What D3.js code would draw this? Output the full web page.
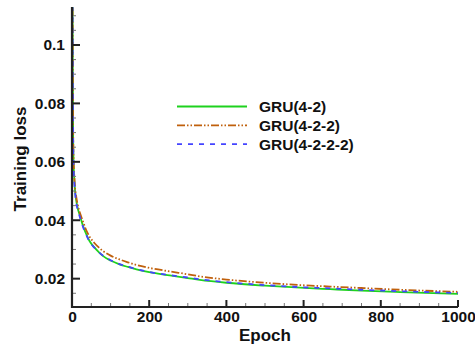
<!DOCTYPE html>
<html>
<head>
<meta charset="utf-8">
<script src="https://cdn.jsdelivr.net/npm/d3@7"></script>
<style>
  body { margin: 0; background: #fff; }
  text { font-family: "Liberation Sans", Arial, sans-serif; font-weight: bold; }
</style>
</head>
<body>
<div id="chart"></div>
<script>
// epochs sampled along the curves
var epochs = [0, 1, 2, 3, 4, 6, 8, 11, 15, 19, 24, 30, 37, 45, 58, 70, 80, 100, 123, 145, 167, 200, 253, 300, 331, 400, 500, 591, 669, 750, 850, 1000];

var gru42 = [0.2, 0.13, 0.09, 0.068, 0.06, 0.054, 0.05, 0.0467, 0.044, 0.0422, 0.04, 0.0375, 0.0352, 0.033, 0.0307, 0.029, 0.0278, 0.0262, 0.0249, 0.024, 0.0232, 0.0222, 0.0211, 0.0202, 0.0196, 0.0186, 0.0176, 0.0169, 0.0164, 0.0159, 0.0154, 0.0148];
var gru422 = [0.2, 0.13, 0.09, 0.069, 0.061, 0.055, 0.051, 0.048, 0.0452, 0.0432, 0.0412, 0.039, 0.0365, 0.0345, 0.0322, 0.0306, 0.0295, 0.0279, 0.0266, 0.0256, 0.0247, 0.0237, 0.0225, 0.0215, 0.0208, 0.0197, 0.0186, 0.0178, 0.0173, 0.0168, 0.0162, 0.0155];
var gru4222 = [0.2, 0.13, 0.09, 0.067, 0.059, 0.053, 0.0495, 0.046, 0.0435, 0.0417, 0.0395, 0.0372, 0.035, 0.0328, 0.0306, 0.029, 0.0279, 0.0263, 0.025, 0.0241, 0.0233, 0.0223, 0.0212, 0.0204, 0.0198, 0.0188, 0.0178, 0.0171, 0.0167, 0.0162, 0.0157, 0.0151];

var seriesNames = ["GRU(4-2)", "GRU(4-2-2)", "GRU(4-2-2-2)"];
var xTicks = [0, 200, 400, 600, 800, 1000];
var yTicks = [0.02, 0.04, 0.06, 0.08, 0.1];

var series = [
  { name: seriesNames[0], values: gru42, color: "#1ed21e", dash: null },
  { name: seriesNames[1], values: gru422, color: "#c0600c", dash: "8,2,1.5,2,1.5,2" },
  { name: seriesNames[2], values: gru4222, color: "#4444ff", dash: "5,6" }
];

var W = 475, H = 345;
var margin = {top: 7, right: 17, bottom: 38, left: 72};
var width = W - margin.left - margin.right;
var height = H - margin.top - margin.bottom;

var svg = d3.select("#chart").append("svg")
  .attr("width", W)
  .attr("height", H);

var g = svg.append("g")
  .attr("transform", "translate(" + margin.left + "," + margin.top + ")");

var x = d3.scaleLinear().domain([0, 1000]).range([0, width]);
var y = d3.scaleLinear().domain([0.0103, 0.113]).range([height, 0]);

g.append("clipPath").attr("id", "clip")
  .append("rect").attr("width", width + 2).attr("height", height);

var line = d3.line()
  .x(function (d, i) { return x(epochs[i]); })
  .y(function (d) { return y(d); })
  .curve(d3.curveMonotoneX);

var plot = g.append("g").attr("clip-path", "url(#clip)");
series.forEach(function (s) {
  plot.append("path")
    .datum(s.values)
    .attr("fill", "none")
    .attr("stroke", s.color)
    .attr("stroke-width", 1.8)
    .attr("stroke-dasharray", s.dash)
    .attr("d", line);
});

// minor ticks
var xMinor = d3.range(50, 1000, 50).filter(function (v) { return v % 200 !== 0; });
g.selectAll(".xminor").data(xMinor).enter().append("line")
  .attr("x1", d => x(d)).attr("x2", d => x(d))
  .attr("y1", height).attr("y2", height - 4)
  .attr("stroke", "#777").attr("stroke-width", 1);
var yMinor = [0.015, 0.025, 0.03, 0.035, 0.045, 0.05, 0.055, 0.065, 0.07, 0.075, 0.085, 0.09, 0.095, 0.105, 0.11];
g.selectAll(".yminor").data(yMinor).enter().append("line")
  .attr("x1", 0).attr("x2", 4)
  .attr("y1", d => y(d)).attr("y2", d => y(d))
  .attr("stroke", "#777").attr("stroke-width", 1);

// major ticks (inward)
g.selectAll(".xmajor").data(xTicks).enter().append("line")
  .attr("x1", d => x(d)).attr("x2", d => x(d))
  .attr("y1", height).attr("y2", height - 7)
  .attr("stroke", "#222").attr("stroke-width", 2);
g.selectAll(".ymajor").data(yTicks).enter().append("line")
  .attr("x1", 0).attr("x2", 8)
  .attr("y1", d => y(d)).attr("y2", d => y(d))
  .attr("stroke", "#222").attr("stroke-width", 2);

// axes
var xAxis = g.append("g")
  .attr("transform", "translate(0," + height + ")")
  .call(d3.axisBottom(x).tickValues(xTicks).tickSize(0).tickPadding(4).tickFormat(d3.format("d")));
var yAxis = g.append("g")
  .call(d3.axisLeft(y).tickValues(yTicks).tickSize(0).tickPadding(7).tickFormat(d => d === 0.1 ? "0.1" : d3.format(".2f")(d)));

[xAxis, yAxis].forEach(function (a) {
  a.select(".domain").attr("stroke-width", 2.2).attr("stroke", "#222");
  a.selectAll(".tick text").style("font-size", "15.5px").attr("fill", "#111");
});
xAxis.select(".domain").attr("d", "M-1,0H" + width);
yAxis.select(".domain").attr("d", "M0," + (height + 1) + "V0");

// axis titles
svg.append("text")
  .attr("x", 265)
  .attr("y", 341)
  .attr("text-anchor", "middle")
  .style("font-size", "17px")
  .attr("fill", "#111")
  .text("Epoch");
svg.append("text")
  .attr("transform", "translate(26,159) rotate(-90)")
  .attr("text-anchor", "middle")
  .style("font-size", "17px")
  .attr("fill", "#111")
  .text("Training loss");

// legend
var legend = svg.append("g");
series.forEach(function (s, i) {
  var ly = 106.5 + i * 18.8;
  legend.append("line")
    .attr("x1", 177).attr("x2", 247)
    .attr("y1", ly).attr("y2", ly)
    .attr("stroke", s.color)
    .attr("stroke-width", 1.8)
    .attr("stroke-dasharray", s.dash);
  legend.append("text")
    .attr("x", 259).attr("y", ly + 5.5)
    .style("font-size", "15.5px")
    .attr("fill", "#111")
    .text(s.name);
});
</script>
</body>
</html>
